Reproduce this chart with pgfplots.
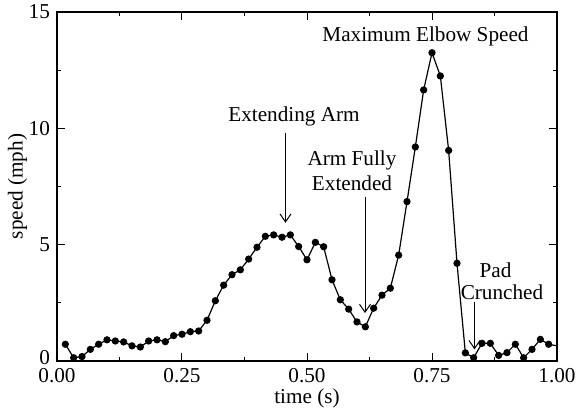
\documentclass[border=0pt]{standalone}
\usepackage{fontspec}
\setmainfont{Liberation Serif}
\usepackage{pgfplots}
\pgfplotsset{compat=1.18}
\usetikzlibrary{arrows.meta}

\pgfplotstableread{
t v
0.0167 0.72
0.0333 0.14
0.0500 0.19
0.0667 0.50
0.0833 0.72
0.1000 0.91
0.1167 0.86
0.1333 0.82
0.1500 0.65
0.1667 0.60
0.1833 0.86
0.2000 0.91
0.2167 0.83
0.2333 1.09
0.2500 1.15
0.2667 1.26
0.2833 1.29
0.3000 1.75
0.3167 2.59
0.3333 3.26
0.3500 3.71
0.3667 3.92
0.3833 4.38
0.4000 4.89
0.4167 5.36
0.4333 5.42
0.4500 5.32
0.4667 5.42
0.4833 4.92
0.5000 4.35
0.5167 5.10
0.5333 4.91
0.5500 3.49
0.5667 2.63
0.5833 2.23
0.6000 1.68
0.6167 1.47
0.6333 2.27
0.6500 2.83
0.6667 3.13
0.6833 4.55
0.7000 6.85
0.7167 9.20
0.7333 11.65
0.7500 13.25
0.7667 12.25
0.7833 9.05
0.8000 4.20
0.8167 0.35
0.8333 0.14
0.8500 0.76
0.8667 0.76
0.8833 0.24
0.9000 0.36
0.9167 0.72
0.9333 0.14
0.9500 0.50
0.9667 0.93
0.9833 0.72
1.0167 0.58
}\speed

\begin{document}
\begin{tikzpicture}[font=\fontsize{10.6}{12.7}\selectfont]
\useasboundingbox (-28.5pt,-25.5pt) rectangle (263.5pt,180.5pt);
\begin{axis}[
  at={(0,0)}, anchor=south west,
  width=250pt, height=174.5pt, scale only axis,
  xmin=0, xmax=1, ymin=0, ymax=15,
  xtick={0,0.25,0.5,0.75,1}, minor xtick={0.125,0.375,0.625,0.875},
  ytick={0,5,10,15}, minor ytick={2.5,7.5,12.5},
  yticklabels={\raisebox{4pt}{0},5,10,15},
  tick align=inside, major tick length=4pt, minor tick length=2.2pt,
  xticklabel style={/pgf/number format/.cd, fixed, fixed zerofill, precision=2},
  /pgf/number format/assume math mode=true,
  xlabel={time (s)}, ylabel={speed (mph)},
  xlabel style={at={(axis description cs:0.5,-0.106)}, anchor=center},
  ylabel style={at={(axis description cs:-0.079,0.5)}, anchor=center},
  tick style={black, line width=0.5pt},
  axis line style={line width=0.6pt},
  clip marker paths=true,
]
\addplot[black, line width=0.6pt, mark=*, mark size=1.5pt] table[x=t, y=v] {\speed};

\node at (axis cs:0.474,10.5) {Extending Arm};
\draw[-{Straight Barb[length=4pt,width=5.5pt]}, line width=0.5pt] (axis cs:0.457,9.8) -- (axis cs:0.457,5.94);

\node at (axis cs:0.59,8.62) {Arm Fully};
\node at (axis cs:0.59,7.65) {Extended};
\draw[-{Straight Barb[length=4pt,width=5.5pt]}, line width=0.5pt] (axis cs:0.616,7.05) -- (axis cs:0.616,2.06);

\node at (axis cs:0.737,13.95) {Maximum Elbow Speed};

\node at (axis cs:0.877,3.92) {Pad};
\node at (axis cs:0.89,2.97) {Crunched};
\draw[-{Straight Barb[length=4pt,width=5.5pt]}, line width=0.5pt] (axis cs:0.835,2.54) -- (axis cs:0.835,0.5);
\end{axis}
\end{tikzpicture}
\end{document}
